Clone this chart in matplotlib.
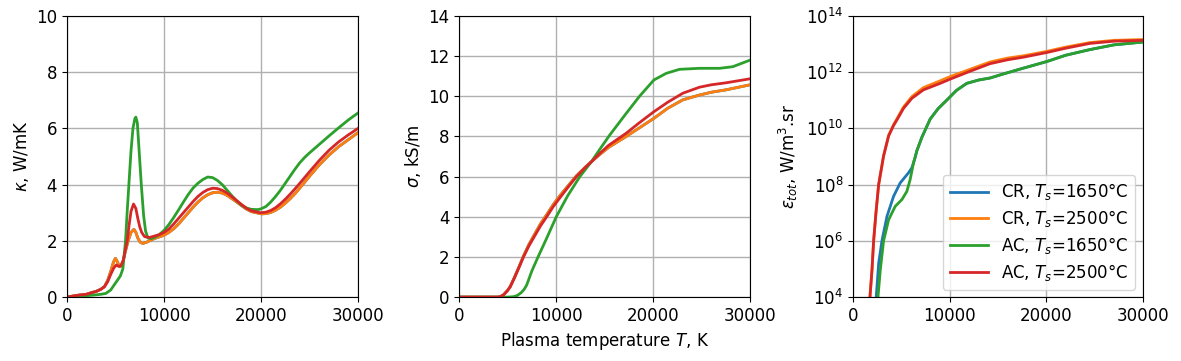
import numpy as np
import matplotlib.pyplot as plt

labels = ['CR, $T_s$=1650°C', 'CR, $T_s$=2500°C', 'AC, $T_s$=1650°C', 'AC, $T_s$=2500°C']
colors = ['C0', 'C1', 'C2', 'C3']

# thermal conductivity kappa, W/mK  (CR 1650 is hidden under CR 2500)
t_kappa_cr = [0, 1000, 2000, 2650, 3000, 3500, 3860, 4200, 4500, 4800, 5000, 5200, 5410, 5600,
              5800, 6000, 6300, 6600, 6900, 7100, 7300, 7550, 7830, 8200, 8600, 9000, 9500,
              10000, 10500, 11000, 11500, 12000, 12500, 13000, 13500, 14000, 14500, 15000,
              15500, 16000, 16500, 17000, 17500, 18000, 18500, 19000, 20060, 20500, 21000,
              21500, 22000, 22500, 23000, 23500, 24000, 25000, 26000, 27000, 28000, 29000, 30000]
kappa_cr_1650 = [0.0, 0.06, 0.1, 0.17, 0.2, 0.28, 0.37, 0.6, 0.9, 1.25, 1.38, 1.25, 1.08, 1.12,
                 1.3, 1.6, 2.0, 2.3, 2.41, 2.3, 2.1, 1.95, 1.91, 1.95, 2.02, 2.08, 2.14,
                 2.2, 2.3, 2.43, 2.6, 2.8, 3.0, 3.2, 3.38, 3.53, 3.64, 3.71,
                 3.73, 3.7, 3.62, 3.5, 3.38, 3.25, 3.13, 3.04, 2.96, 2.97, 3.01,
                 3.09, 3.2, 3.34, 3.5, 3.68, 3.88, 4.3, 4.7, 5.05, 5.35, 5.6, 5.85]
kappa_cr_2500 = list(kappa_cr_1650)
t_kappa_ac_1650 = [0, 1000, 2000, 3000, 3500, 4000, 4500, 5000, 5500, 5760, 6035, 6200, 6380,
                   6600, 6800, 7000, 7100, 7250, 7400, 7660, 7900, 8100, 8340, 8700, 9000, 9500,
                   10000, 10500, 11000, 11500, 12000, 12500, 13000, 13500, 14000, 14500, 15000,
                   15500, 16000, 16500, 17000, 17500, 18000, 18500, 19000, 19700, 20000, 20500,
                   21000, 21500, 22000, 22500, 23000, 23500, 24000, 24500, 25000, 26000, 27000,
                   28000, 29000, 30000]
kappa_ac_1650 = [0.0, 0.03, 0.05, 0.08, 0.1, 0.13, 0.25, 0.5, 0.75, 1.0, 2.0, 3.0, 4.0,
                 5.2, 6.0, 6.35, 6.4, 6.2, 5.4, 4.0, 2.9, 2.35, 2.1, 2.08, 2.12, 2.22,
                 2.37, 2.58, 2.83, 3.1, 3.38, 3.65, 3.88, 4.05, 4.18, 4.27, 4.25,
                 4.15, 4.0, 3.8, 3.6, 3.42, 3.27, 3.17, 3.12, 3.11, 3.14, 3.22,
                 3.38, 3.58, 3.8, 4.05, 4.3, 4.55, 4.78, 4.97, 5.13, 5.43, 5.73,
                 6.02, 6.3, 6.55]
t_kappa_ac_2500 = [0, 1000, 2000, 2650, 3000, 3500, 3860, 4200, 4500, 4800, 5070, 5300, 5530,
                   5800, 6000, 6210, 6400, 6600, 6860, 7100, 7300, 7500, 7700, 8000, 8500, 9000,
                   9500, 10000, 10500, 11000, 11500, 12000, 12500, 13000, 13500, 14000, 14500,
                   15000, 15500, 16000, 16500, 17000, 17500, 18000, 18500, 19000, 19900, 20500,
                   21000, 21500, 22000, 22500, 23000, 23500, 24000, 25000, 26000, 27000, 28000,
                   29000, 30000]
kappa_ac_2500 = [0.0, 0.06, 0.1, 0.17, 0.2, 0.28, 0.37, 0.55, 0.8, 1.02, 1.14, 1.1, 1.1,
                 1.3, 1.65, 2.0, 2.55, 3.05, 3.31, 3.15, 2.8, 2.5, 2.3, 2.15, 2.12, 2.17,
                 2.22, 2.3, 2.42, 2.6, 2.8, 3.0, 3.2, 3.4, 3.58, 3.72, 3.82,
                 3.87, 3.86, 3.8, 3.7, 3.57, 3.43, 3.29, 3.16, 3.07, 3.0, 3.02,
                 3.08, 3.18, 3.32, 3.48, 3.66, 3.85, 4.05, 4.46, 4.86, 5.22, 5.52,
                 5.77, 6.0]

# electrical conductivity sigma, kS/m  (CR 1650 is hidden under CR 2500)
t_sigma_2500 = [0, 4000, 4250, 4600, 5000, 5270, 5700, 6200, 6640, 7200, 7800, 8400, 9030,
                9700, 10400, 11200, 12100, 13000, 13640, 14500, 15400, 16300, 17230, 18500,
                20080, 21500, 23060, 24780, 26000, 27530, 30000]
sigma_cr_1650 = [0, 0, 0.02, 0.12, 0.33, 0.52, 0.97, 1.53, 2.04, 2.62, 3.14, 3.65, 4.1,
                 4.6, 5.05, 5.52, 6.04, 6.46, 6.74, 7.1, 7.45, 7.72, 8.0, 8.4,
                 8.9, 9.4, 9.82, 10.06, 10.2, 10.32, 10.57]
sigma_cr_2500 = list(sigma_cr_1650)
sigma_ac_2500 = [0, 0, 0.02, 0.12, 0.33, 0.51, 0.95, 1.5, 2.0, 2.55, 3.05, 3.55, 4.0,
                 4.5, 4.95, 5.45, 6.0, 6.45, 6.74, 7.15, 7.55, 7.85, 8.16, 8.65,
                 9.23, 9.7, 10.15, 10.45, 10.57, 10.67, 10.87]
t_sigma_ac_1650 = [0, 5000, 5600, 6000, 6400, 6700, 6970, 7500, 8140, 9000, 10020, 11200,
                   12450, 13640, 14490, 15500, 17230, 18600, 20080, 21350, 22720, 24780,
                   26840, 28210, 30000]
sigma_ac_1650 = [0, 0, 0.02, 0.08, 0.22, 0.38, 0.6, 1.3, 2.0, 2.9, 4.0, 5.05,
                 6.0, 6.74, 7.35, 8.05, 9.15, 10.0, 10.81, 11.14, 11.34, 11.39,
                 11.39, 11.47, 11.8]

# total emission coefficient, log10 of W/m3.sr
t_eps_cr_1650 = [2350, 2400, 2650, 2990, 3510, 4190, 4880, 5740, 6090, 6430, 6600, 7120, 7980,
                 8800, 9690, 10700, 11760, 13000, 14170, 15500, 17610, 20080, 22000, 24490,
                 27000, 30000]
eps_cr_1650 = [3.85, 4.0, 5.2, 6.0, 6.87, 7.58, 8.06, 8.42, 8.6, 8.96, 9.2, 9.68, 10.33,
               10.7, 11.0, 11.35, 11.6, 11.72, 11.79, 11.93, 12.14, 12.38, 12.6, 12.8,
               12.97, 13.07]
t_eps_2500 = [1700, 1750, 1960, 2130, 2370, 2650, 3160, 3680, 4190, 4540, 5222, 6089, 7286,
              9009, 10041, 12100, 14170, 16000, 17610, 20080, 22000, 24490, 27000, 30000]
eps_cr_2500 = [3.9, 4.0, 4.96, 6.0, 6.99, 8.0, 9.02, 9.75, 10.13, 10.34, 10.76, 11.13, 11.45,
               11.69, 11.84, 12.1, 12.36, 12.5, 12.58, 12.74, 12.89, 13.05, 13.13, 13.16]
eps_ac_2500 = [3.9, 4.0, 4.96, 6.0, 6.99, 8.0, 9.02, 9.73, 10.1, 10.3, 10.71, 11.07, 11.37,
               11.6, 11.75, 12.03, 12.3, 12.44, 12.53, 12.7, 12.85, 13.02, 13.1, 13.13]
t_eps_ac_1650 = [2530, 2580, 2820, 3160, 3680, 4370, 5060, 5570, 5910, 6260, 6600, 7120, 7980,
                 8800, 9690, 10700, 11760, 13000, 14170, 15500, 17610, 20080, 22000, 24490,
                 27000, 30000]
eps_ac_1650 = [3.85, 4.0, 4.96, 6.0, 6.75, 7.23, 7.47, 7.76, 8.18, 8.78, 9.2, 9.68, 10.33,
               10.7, 11.0, 11.35, 11.6, 11.72, 11.79, 11.93, 12.14, 12.38, 12.6, 12.8,
               12.97, 13.07]

plt.rcParams['font.family'] = 'DejaVu Sans'
plt.rcParams['font.size'] = 12

fig = plt.figure(figsize=(11.81, 3.61), dpi=100)
ax1 = fig.add_axes([0.0567, 0.177, 0.2465, 0.779])
ax2 = fig.add_axes([0.3887, 0.177, 0.2465, 0.779])
ax3 = fig.add_axes([0.7223, 0.177, 0.2455, 0.779])

kappa_series = [(t_kappa_cr, kappa_cr_1650), (t_kappa_cr, kappa_cr_2500),
                (t_kappa_ac_1650, kappa_ac_1650), (t_kappa_ac_2500, kappa_ac_2500)]
for (t, y), c, lab in zip(kappa_series, colors, labels):
    ax1.plot(t, y, color=c, lw=2, label=lab)
ax1.set_ylim(0, 10)
ax1.set_ylabel(r'$\kappa$, W/mK')

sigma_series = [(t_sigma_2500, sigma_cr_1650), (t_sigma_2500, sigma_cr_2500),
                (t_sigma_ac_1650, sigma_ac_1650), (t_sigma_2500, sigma_ac_2500)]
for (t, y), c, lab in zip(sigma_series, colors, labels):
    ax2.plot(t, y, color=c, lw=2, label=lab)
ax2.set_ylim(0, 14)
ax2.set_ylabel(r'$\sigma$, kS/m')
ax2.set_xlabel('Plasma temperature $T$, K')

eps_series = [(t_eps_cr_1650, eps_cr_1650), (t_eps_2500, eps_cr_2500),
              (t_eps_ac_1650, eps_ac_1650), (t_eps_2500, eps_ac_2500)]
for (t, e), c, lab in zip(eps_series, colors, labels):
    ax3.plot(t, 10.0 ** np.array(e), color=c, lw=2, label=lab)
ax3.set_yscale('log')
ax3.set_ylim(1e4, 1e14)
ax3.set_yticks([1e4, 1e6, 1e8, 1e10, 1e12, 1e14])
ax3.minorticks_off()
ax3.set_ylabel(r'$\varepsilon_{tot}$, W/m$^3$.sr')
ax3.legend(loc='lower right', fontsize=12, handlelength=2.3, labelspacing=0.35,
           borderaxespad=0.45)

for ax in (ax1, ax2, ax3):
    ax.set_xlim(0, 30000)
    ax.set_xticks([0, 10000, 20000, 30000])
    ax.grid(True, color='#b0b0b0', lw=1)

fig.savefig('out.png', dpi=100)
